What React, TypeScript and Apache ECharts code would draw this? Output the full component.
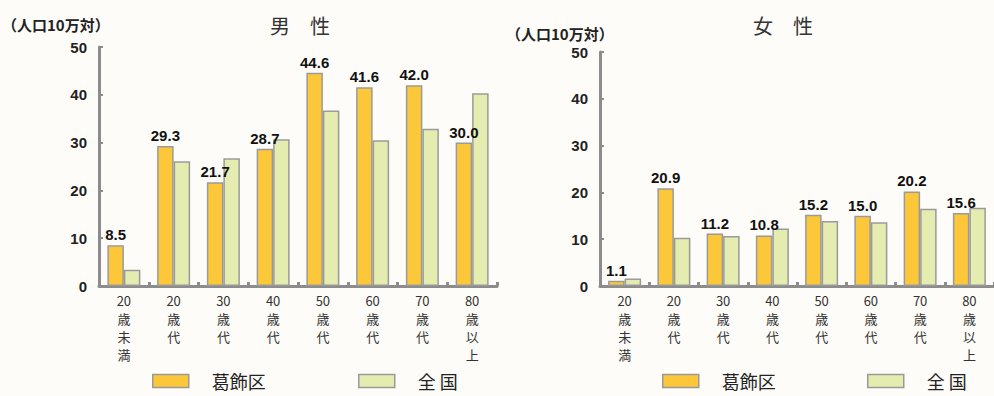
import React, { useEffect, useRef } from "react";
import * as echarts from "echarts";

const categories = ["20\n歳\n未\n満", "20\n歳\n代", "30\n歳\n代", "40\n歳\n代", "50\n歳\n代", "60\n歳\n代", "70\n歳\n代", "80\n歳\n以\n上"];
const maleKatsushika = [8.5, 29.3, 21.7, 28.7, 44.6, 41.6, 42.0, 30.0];
const maleNational = [3.4, 26.1, 26.7, 30.7, 36.7, 30.5, 32.9, 40.3];
const femaleKatsushika = [1.1, 20.9, 11.2, 10.8, 15.2, 15.0, 20.2, 15.6];
const femaleNational = [1.6, 10.3, 10.7, 12.3, 13.9, 13.6, 16.5, 16.7];
const seriesNames = ["葛飾区", "全 国"];
const titles = ["男　性", "女　性"];
const unitLabel = "（人口10万対）";

const ORANGE = "#fcc83a";
const GREEN = "#e4ecb0";
const AXIS = "#8c8c8c";
const FONT = "'Liberation Sans', 'Noto Sans CJK JP', sans-serif";
const CJK = "'Noto Sans CJK JP', sans-serif";

export default function App() {
  const ref = useRef<HTMLDivElement>(null);
  useEffect(() => {
    document.body.style.margin = "0";
    const chart = echarts.init(ref.current!, null, { renderer: "svg" });
    const grids = [
      { left: 99, top: 47, width: 398, height: 239 },
      { left: 600, top: 52, width: 398, height: 234 },
    ];
    const xAxis = grids.map((_, i) => ({
      type: "category",
      gridIndex: i,
      data: categories,
      axisLine: { lineStyle: { color: AXIS, width: 3 } },
      axisTick: { show: true, inside: true, length: 4, interval: 0, lineStyle: { color: AXIS, width: 3 } },
      axisLabel: { interval: 0, fontSize: 13, lineHeight: 18, color: "#333", margin: 5, fontFamily: CJK },
    }));
    const yAxis = grids.map((_, i) => ({
      type: "value",
      gridIndex: i,
      min: 0,
      max: 50,
      interval: 10,
      splitLine: { show: false },
      axisLine: { show: true, lineStyle: { color: AXIS, width: 3 } },
      axisTick: { show: true, inside: true, length: 4, lineStyle: { color: AXIS, width: 2 } },
      axisLabel: { fontSize: 15, fontWeight: "bold", color: "#222", margin: 12, fontFamily: FONT },
    }));
    const barCommon = {
      type: "bar",
      barWidth: 16.5,
      barGap: "0%",
    };
    const mkBars = (idx: number, k: number[], n: number[]) => [
      {
        ...barCommon,
        name: seriesNames[0],
        xAxisIndex: idx,
        yAxisIndex: idx,
        data: k,
        itemStyle: { color: ORANGE, borderColor: "#9a9a9a", borderWidth: 1.5 },
        label: {
          show: true,
          position: "top",
          distance: 3,
          fontSize: 15,
          fontWeight: "bold",
          color: "#111",
          fontFamily: FONT,
          formatter: (p: any) => Number(p.value).toFixed(1),
        },
      },
      {
        ...barCommon,
        name: seriesNames[1],
        xAxisIndex: idx,
        yAxisIndex: idx,
        data: n,
        itemStyle: { color: GREEN, borderColor: "#9a9a9a", borderWidth: 1.5 },
      },
    ];
    const legendAt = (left: number, name: string, color: string) => ({
      left,
      top: 370,
      padding: 0,
      data: [{ name, itemStyle: { color, borderColor: "#9a9a9a", borderWidth: 1.5 } }],
      icon: "rect",
      itemWidth: 36,
      itemHeight: 13,
      selectedMode: false,
      textStyle: { fontSize: 18, lineHeight: 22, color: "#222", fontFamily: CJK, padding: [0, 0, 0, 18] },
    });
    chart.setOption({
      animation: false,
      backgroundColor: "#fdfcf8",
      grid: grids,
      xAxis,
      yAxis,
      series: [...mkBars(0, maleKatsushika, maleNational), ...mkBars(1, femaleKatsushika, femaleNational)],
      legend: [
        legendAt(152, seriesNames[0], ORANGE),
        legendAt(358, seriesNames[1], GREEN),
        legendAt(662, seriesNames[0], ORANGE),
        legendAt(867, seriesNames[1], GREEN),
      ],
      graphic: [
        { type: "text", x: 300, y: 25, style: { text: titles[0], fontSize: 20, fill: "#333", fontFamily: CJK, textAlign: "center", textVerticalAlign: "middle" } },
        { type: "text", x: 783, y: 25, style: { text: titles[1], fontSize: 20, fill: "#333", fontFamily: CJK, textAlign: "center", textVerticalAlign: "middle" } },
        { type: "text", x: 2, y: 24, style: { text: unitLabel, fontSize: 15, fontWeight: "bold", fill: "#222", fontFamily: CJK, textVerticalAlign: "middle" } },
        { type: "text", x: 506, y: 33, style: { text: unitLabel, fontSize: 15, fontWeight: "bold", fill: "#222", fontFamily: CJK, textVerticalAlign: "middle" } },
      ],
    });
    return () => chart.dispose();
  }, []);
  return <div ref={ref} style={{ width: 994, height: 396 }} />;
}
